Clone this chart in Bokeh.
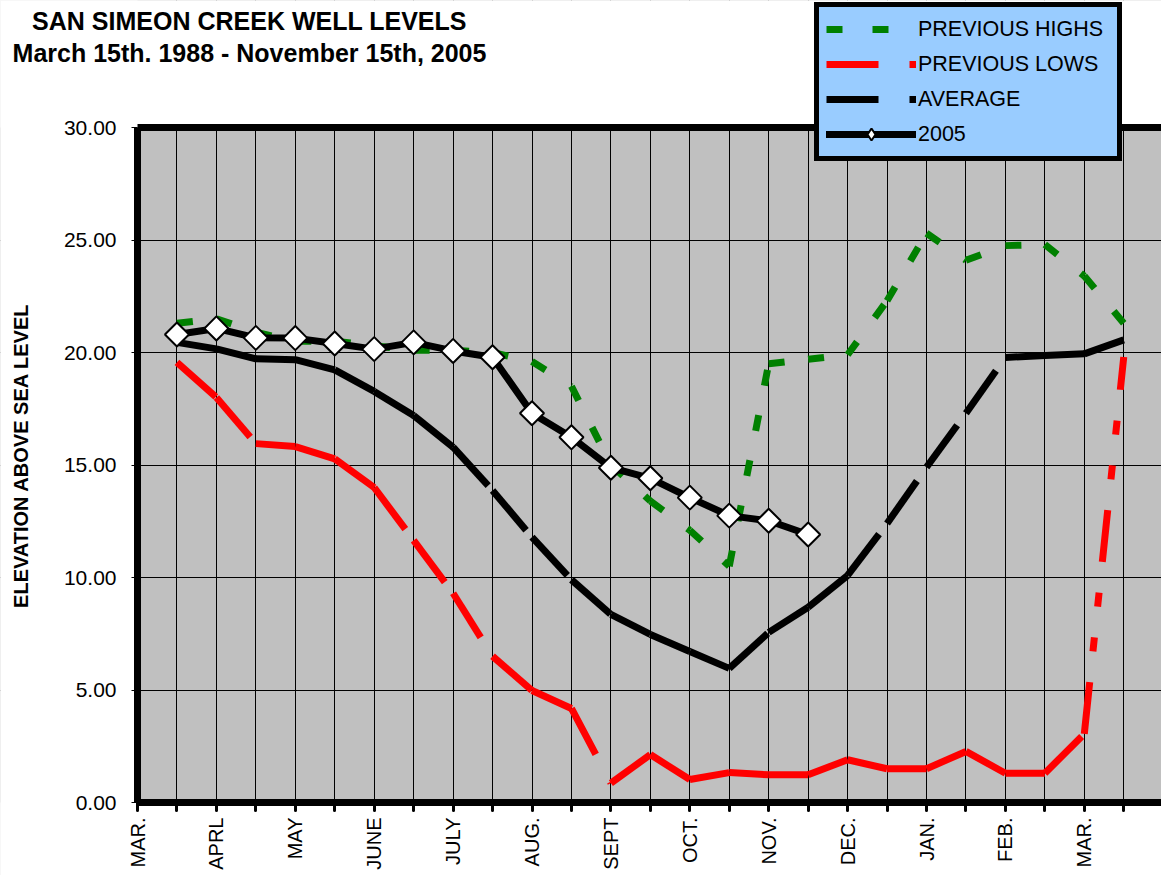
import math
from bokeh.plotting import figure
from bokeh.models import (Range1d, FixedTicker, Legend, LegendItem, Label, LinearAxis,
                          BoxAnnotation, NumeralTickFormatter)
from bokeh.embed import file_html
from bokeh.resources import INLINE

# ---------------- data ----------------
month_labels = ["MAR.", "APRL", "MAY", "JUNE", "JULY", "AUG.", "SEPT",
                "OCT.", "NOV.", "DEC.", "JAN.", "FEB.", "MAR."]
month_positions = [0, 2, 4, 6, 8, 10, 12, 14, 16, 18, 20, 22, 24]
all_ticks = list(range(0, 26))
y_ticks = [0, 5, 10, 15, 20, 25, 30]

periods = list(range(1, 26))   # half-month reading positions (Mar 15 .. Mar 15)
highs = [21.3, 21.5, 20.9, 20.5, 20.5, 20.3, 20.1, 20.1, 20.0, 19.6, 18.5, 15.0,
         13.4, 12.1, 10.5, 19.5, 19.7, 19.9, 22.3, 25.3, 24.1, 24.75, 24.8, 23.4, 21.3]
lows = [19.56, 18.0, 15.95, 15.82, 15.27, 14.0, 11.65, 9.3, 6.5, 4.98, 4.18, 0.86,
        2.13, 1.02, 1.33, 1.23, 1.23, 1.9, 1.5, 1.5, 2.27, 1.3, 1.3, 3.05, 19.8]
average = [20.45, 20.16, 19.72, 19.68, 19.23, 18.27, 17.2, 15.79, 13.87, 11.79, 9.9,
           8.36, 7.47, 6.71, 5.96, 7.56, 8.68, 10.09, 12.4, 14.9, 17.3, 19.78, 19.87,
           19.94, 20.56]
periods_2005 = list(range(1, 18))
levels_2005 = [20.8, 21.07, 20.65, 20.64, 20.4, 20.15, 20.45, 20.07, 19.79, 17.3,
               16.23, 14.88, 14.41, 13.55, 12.75, 12.52, 11.91]

Y_TOP = 30
FONT = "Liberation Sans"


def segments(xv, yv):
    xs = [[xv[i], xv[i + 1]] for i in range(len(xv) - 1)]
    ys = [[yv[i], yv[i + 1]] for i in range(len(yv) - 1)]
    return xs, ys


# layout (pixels): the frame covers the whole page, axes are pinned
PX_PER_PERIOD = 39.45
PX_PER_UNIT = 22.5
FRAME_W = 1161
FRAME_H = 875
AXIS_X = 137        # page x of the value axis
AXIS_Y = 802        # page y of the category axis

x_start = -AXIS_X / PX_PER_PERIOD
x_end = (FRAME_W - AXIS_X) / PX_PER_PERIOD
y_start = -(FRAME_H - AXIS_Y) / PX_PER_UNIT
y_end = AXIS_Y / PX_PER_UNIT

p = figure(output_backend="svg", toolbar_location=None,
           frame_width=FRAME_W, frame_height=FRAME_H,
           min_border_left=0, min_border_right=0, min_border_top=0,
           min_border_bottom=0,
           x_range=Range1d(x_start, x_end), y_range=Range1d(y_start, y_end))
p.outline_line_color = None
p.background_fill_color = "#C0C0C0"
p.border_fill_color = "white"

# grid
p.xgrid.ticker = FixedTicker(ticks=list(range(1, 26)))
p.ygrid.ticker = FixedTicker(ticks=[5, 10, 15, 20, 25])
for g in (p.xgrid[0], p.ygrid[0]):
    g.grid_line_color = "black"
    g.grid_line_width = 1

# white page around the plot area
pad_x, pad_y = 1.0, 1.0
for kw in (dict(bottom=Y_TOP, top=y_end + pad_y, left=x_start - pad_x, right=x_end + pad_x),
           dict(bottom=y_start - pad_y, top=0, left=x_start - pad_x, right=x_end + pad_x),
           dict(bottom=y_start - pad_y, top=y_end + pad_y, left=x_start - pad_x, right=0)):
    p.add_layout(BoxAnnotation(fill_color="white", fill_alpha=1.0, line_color=None,
                               level="underlay", **kw))

# category axis pinned at y = 0
xa = p.xaxis[0]
xa.fixed_location = 0
xa.ticker = FixedTicker(ticks=all_ticks)
xa.bounds = (0, x_end + pad_x)
overrides = {t: "" for t in all_ticks}
for pos, lab in zip(month_positions, month_labels):
    overrides[pos] = lab
xa.major_label_overrides = overrides
xa.major_label_orientation = math.pi / 2
xa.axis_line_width = 7
xa.axis_line_color = "black"
xa.major_tick_in = 0
xa.major_tick_out = 8
xa.major_tick_line_width = 3
xa.major_tick_line_cap = "round"
xa.minor_tick_line_color = None
xa.major_label_standoff = 7
xa.major_label_text_font = FONT
xa.major_label_text_font_size = "20px"
xa.major_label_text_color = "black"

# value axis pinned at x = 0
ya = p.yaxis[0]
ya.fixed_location = 0
ya.ticker = FixedTicker(ticks=y_ticks)
ya.bounds = (0, Y_TOP)
ya.formatter = NumeralTickFormatter(format="0.00")
ya.axis_line_width = 7
ya.axis_line_color = "black"
ya.major_tick_in = 0
ya.major_tick_out = 6
ya.major_tick_line_width = 1
ya.minor_tick_line_color = None
ya.major_label_standoff = 15
ya.major_label_text_font = FONT
ya.major_label_text_font_size = "21px"
ya.major_label_text_color = "black"

# top border of the plot area: a bare axis pinned at y = 30
top = LinearAxis(fixed_location=Y_TOP, bounds=(0, x_end + pad_x),
                 ticker=FixedTicker(ticks=[]), axis_line_width=7,
                 axis_line_color="black", major_tick_line_color=None,
                 minor_tick_line_color=None, major_label_text_font_size="0px")
p.add_layout(top, "above")

# series
hx, hy = segments(periods, highs)
r_high = p.multi_line(hx, hy, line_color="#008000", line_width=7, line_dash="16 30")
lx, ly = segments(periods, lows)
r_low = p.multi_line(lx, ly, line_color="#FF0000", line_width=7,
                     line_dash="52 31 14 31 14 31")
ax_, ay_ = segments(periods, average)
r_avg = p.multi_line(ax_, ay_, line_color="black", line_width=7,
                     line_dash="52 31 14 31 14 31")
r_2005_line = p.line(periods_2005, levels_2005, line_color="black", line_width=7,
                     line_join="round", line_cap="round")
# small diamonds (used for the legend key), covered by the large markers
r_2005_key = p.scatter(periods_2005, levels_2005, marker="diamond", size=12,
                       fill_color="white", line_color="black", line_width=2)
r_2005_pts = p.scatter(periods_2005, levels_2005, marker="square", angle=math.pi / 4,
                       size=17, fill_color="white", line_color="black", line_width=2)

legend = Legend(items=[
    LegendItem(label="PREVIOUS HIGHS", renderers=[r_high]),
    LegendItem(label="PREVIOUS LOWS", renderers=[r_low]),
    LegendItem(label="AVERAGE", renderers=[r_avg]),
    LegendItem(label="2005", renderers=[r_2005_line, r_2005_key]),
], location=(814, FRAME_H - 161), orientation="vertical",
    background_fill_color="#99CCFF", background_fill_alpha=1.0,
    border_line_color="black", border_line_width=5, border_line_alpha=1.0,
    label_text_font=FONT, label_text_font_size="21.5px", label_text_color="black",
    glyph_width=90, glyph_height=30, label_standoff=2, label_width=192,
    padding=7, spacing=5, margin=0)
p.add_layout(legend)

# title (two lines, upper left)
p.add_layout(Label(x=249, y=FRAME_H - 20, x_units="screen", y_units="screen",
                   text="SAN SIMEON CREEK WELL LEVELS",
                   text_align="center", text_baseline="middle", text_font=FONT,
                   text_font_style="bold", text_font_size="25px", text_color="black"))
p.add_layout(Label(x=249, y=FRAME_H - 52, x_units="screen", y_units="screen",
                   text="March 15th. 1988 - November 15th, 2005",
                   text_align="center", text_baseline="middle", text_font=FONT,
                   text_font_style="bold", text_font_size="25px", text_color="black"))

# value-axis title
p.add_layout(Label(x=20, y=FRAME_H - 455, x_units="screen", y_units="screen",
                   angle=math.pi / 2, text="ELEVATION ABOVE SEA LEVEL",
                   text_align="center", text_baseline="middle", text_font=FONT,
                   text_font_style="bold", text_font_size="20px", text_color="black"))

open("out.html", "w").write(file_html(p, INLINE))
